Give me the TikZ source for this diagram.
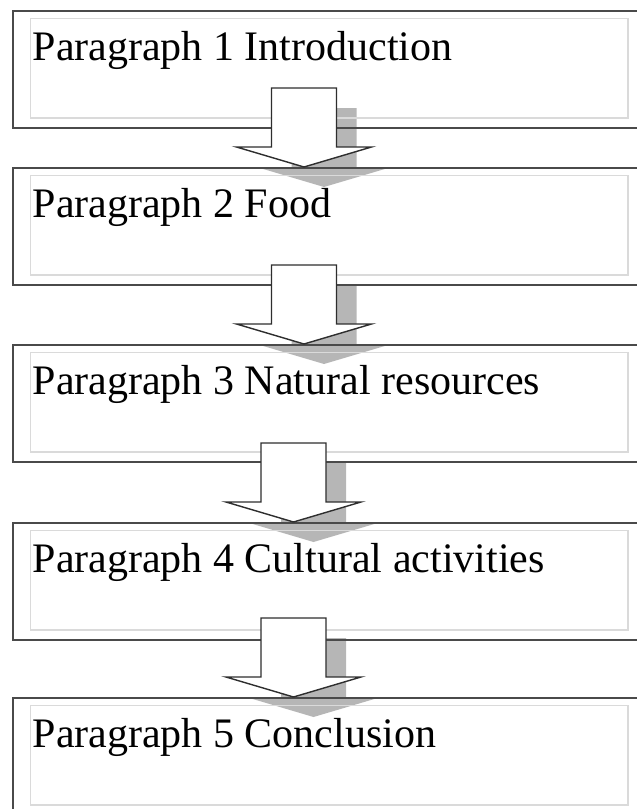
\documentclass[tikz,border=0pt]{standalone}
\usepackage{fontspec}
\setmainfont{Liberation Serif}
\usetikzlibrary{calc,backgrounds}
\definecolor{boxline}{HTML}{4A4A4A}
\definecolor{innerline}{HTML}{DADADA}
\definecolor{shadowgray}{HTML}{B6B6B6}
\definecolor{arrowline}{HTML}{2E2E2E}
\tikzset{
  parabox/.style={draw=boxline, line width=2pt, rectangle, anchor=north west,
    minimum width=640pt, minimum height=117pt, inner sep=0pt},
  innerbox/.style={draw=innerline, line width=1.5pt},
  paratext/.style={anchor=base west, inner sep=0pt, font=\fontsize{42}{50}\selectfont, text=black},
  bigarrow/.style={fill=white, draw=arrowline, line width=1.4pt, line join=miter},
  bigshadow/.style={fill=shadowgray, draw=none}
}
\newcommand\arrowpath{(-32.5,-79) -- (32.5,-79) -- (32.5,-20) -- (67.5,-20) -- (0,0) -- (-67.5,-20) -- (-32.5,-20) -- cycle}
\newcommand\flowarrow[3]{%
  \coordinate (tip-#3) at (#1,0 |- #3.north);
  \begin{scope}[on background layer]
    \fill[bigshadow, shift={(tip-#3)}, shift={(20,20)}] \arrowpath;
  \end{scope}
  \draw[bigarrow, shift={(tip-#3)}] \arrowpath;
}
\begin{document}
\begin{tikzpicture}[x=1pt,y=-1pt]
\useasboundingbox (0,0) rectangle (637,809);
\clip (0,0) rectangle (637,809);
\foreach \n/\t/\txt in {b1/10/Paragraph 1 Introduction, b2/167/Paragraph 2 Food, b3/344/Paragraph 3 Natural resources, b4/522/Paragraph 4 Cultural activities, b5/697/Paragraph 5 Conclusion}{
  \node[parabox] (\n) at (12,\t) {};
  \draw[innerbox] ($(\n.north west)+(18.5,8.5)$) rectangle ($(\n.north west)+(616,108)$);
  \node[paratext] (t-\n) at ($(\n.north west)+(20.5,50)$) {\txt};
}
\flowarrow{304}{b1}{b2}
\flowarrow{304}{b2}{b3}
\flowarrow{293.5}{b3}{b4}
\flowarrow{293.5}{b4}{b5}
\end{tikzpicture}
\end{document}
